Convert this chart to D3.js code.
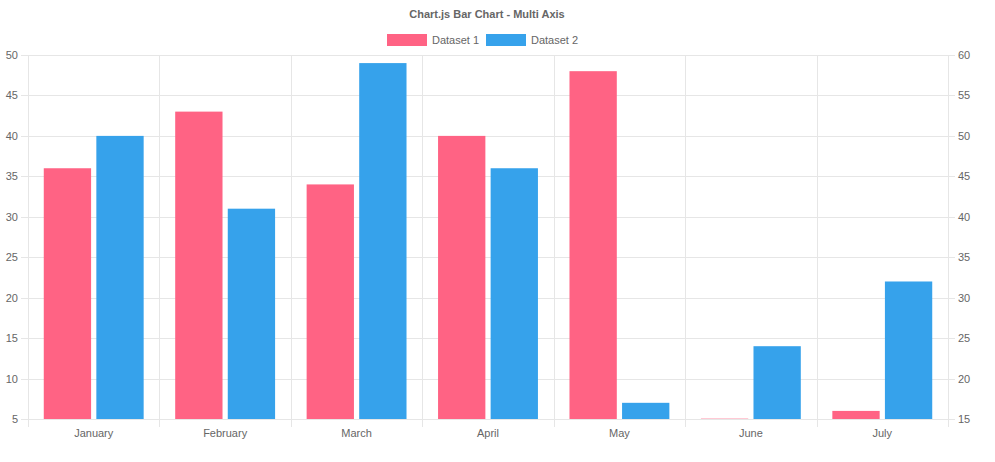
<!DOCTYPE html>
<html>
<head>
<meta charset="utf-8">
<script src="https://cdn.jsdelivr.net/npm/d3@7"></script>
<style>
  body { margin: 0; background: #fff; }
  text { font-family: "Liberation Sans", Arial, Helvetica, sans-serif; fill: #666; }
</style>
</head>
<body>
<svg id="chart"></svg>
<script>
var months = ["January", "February", "March", "April", "May", "June", "July"];
var dataset1 = [36, 43, 34, 40, 48, 5, 6];     // left axis
var dataset2 = [50, 41, 59, 46, 17, 24, 32];   // right axis
var leftTicks = [5, 10, 15, 20, 25, 30, 35, 40, 45, 50];
var rightTicks = [15, 20, 25, 30, 35, 40, 45, 50, 55, 60];
var seriesNames = ["Dataset 1", "Dataset 2"];
var seriesColors = ["#ff6384", "#36a2eb"];

var width = 995, height = 462;
var margin = { top: 55, right: 47, bottom: 43, left: 28 };
var innerW = width - margin.left - margin.right;
var innerH = height - margin.top - margin.bottom;
var gridColor = "#e6e6e6";
var centerX = 487;

var svg = d3.select("#chart")
  .attr("width", width)
  .attr("height", height);

/* Title */
svg.append("text")
  .attr("x", centerX)
  .attr("y", 18)
  .attr("text-anchor", "middle")
  .style("font-size", "11px")
  .style("font-weight", "bold")
  .text("Chart.js Bar Chart - Multi Axis");

/* Legend */
var legendItemW = [99, 91];
var legend = svg.append("g")
  .attr("transform", "translate(" + (centerX - 5 - d3.sum(legendItemW) / 2) + ",34)");
var lx = 0;
seriesNames.forEach(function (name, i) {
  var item = legend.append("g").attr("transform", "translate(" + lx + ",0)");
  item.append("rect")
    .attr("width", 40).attr("height", 12)
    .attr("fill", seriesColors[i]);
  item.append("text")
    .attr("x", 45).attr("y", 10)
    .style("font-size", "11px")
    .text(name);
  lx += legendItemW[i];
});

var g = svg.append("g")
  .attr("transform", "translate(" + margin.left + "," + margin.top + ")");

/* Scales */
var x0 = d3.scaleBand().domain(months).range([0, innerW]).paddingInner(0).paddingOuter(0);
var x1 = d3.scaleBand().domain([0, 1]).range([x0.bandwidth() * 0.1, x0.bandwidth() * 0.9]).paddingInner(0.1).paddingOuter(0.05);
var yLeft = d3.scaleLinear().domain([5, 50]).range([innerH, 0]);
var yRight = d3.scaleLinear().domain([15, 60]).range([innerH, 0]);

/* Grid: horizontal */
g.append("g").selectAll("line")
  .data(leftTicks).enter()
  .append("line")
  .attr("x1", -7).attr("x2", innerW + 7)
  .attr("y1", d => Math.round(yLeft(d)) + 0.5)
  .attr("y2", d => Math.round(yLeft(d)) + 0.5)
  .attr("stroke", gridColor);

/* Grid: vertical (category boundaries) */
var bounds = months.map(m => x0(m)).concat([innerW]);
g.append("g").selectAll("line")
  .data(bounds).enter()
  .append("line")
  .attr("x1", d => Math.round(d) + 0.5).attr("x2", d => Math.round(d) + 0.5)
  .attr("y1", 0).attr("y2", innerH + 8)
  .attr("stroke", gridColor);

/* Bars */
var rows = months.map(function (m, i) {
  return { month: m, values: [
    { s: 0, y: yLeft(dataset1[i]), base: yLeft(5) },
    { s: 1, y: yRight(dataset2[i]), base: yRight(15) }
  ] };
});

g.selectAll(".month")
  .data(rows).enter()
  .append("g")
  .attr("class", "month")
  .attr("transform", d => "translate(" + x0(d.month) + ",0)")
  .selectAll("rect")
  .data(d => d.values).enter()
  .append("rect")
  .attr("x", d => x1(d.s))
  .attr("width", x1.bandwidth())
  .attr("y", d => Math.min(d.y, d.base - 1))
  .attr("height", d => Math.max(1, d.base - d.y))
  .attr("fill", d => seriesColors[d.s])
  .attr("fill-opacity", d => d.base - d.y < 1 ? 0.35 : 1);

/* Axes labels */
g.append("g").selectAll("text")
  .data(leftTicks).enter()
  .append("text")
  .attr("x", -10)
  .attr("y", d => yLeft(d) + 4)
  .attr("text-anchor", "end")
  .style("font-size", "11px")
  .text(d => d);

g.append("g").selectAll("text")
  .data(rightTicks).enter()
  .append("text")
  .attr("x", innerW + 10)
  .attr("y", d => yRight(d) + 4)
  .attr("text-anchor", "start")
  .style("font-size", "11px")
  .text(d => d);

g.append("g").selectAll("text")
  .data(months).enter()
  .append("text")
  .attr("x", d => x0(d) + x0.bandwidth() / 2)
  .attr("y", innerH + 18)
  .attr("text-anchor", "middle")
  .style("font-size", "11px")
  .text(d => d);
</script>
</body>
</html>
